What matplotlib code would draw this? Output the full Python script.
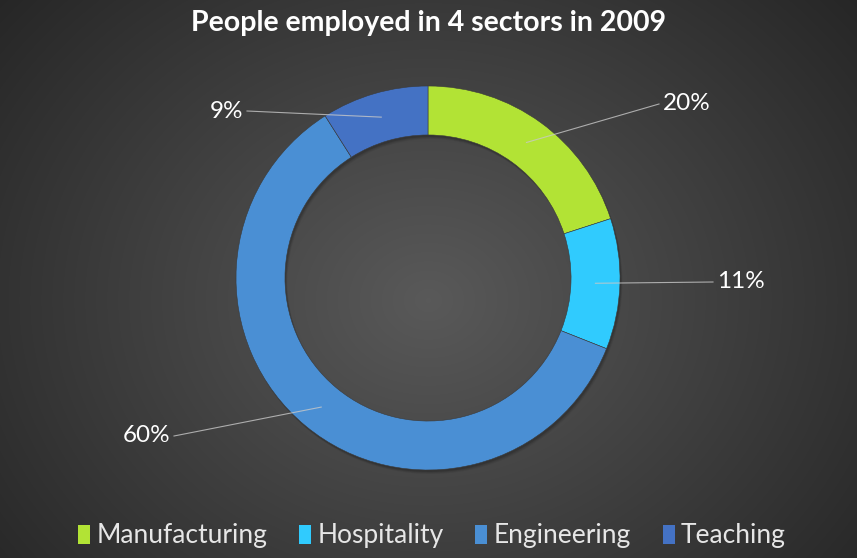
import numpy as np
import matplotlib.pyplot as plt
from matplotlib.patches import Patch, Wedge

sectors = ['Manufacturing', 'Hospitality', 'Engineering', 'Teaching']
shares = [20, 11, 60, 9]
colors = ['#b2e335', '#30cbfe', '#4a8fd4', '#4472c4']
# where each percentage label sits (pixels, origin bottom-left)
label_pos = [(659, 454), (713, 276), (174, 122), (247, 447)]

plt.rcParams['font.family'] = ['Lato', 'DejaVu Sans']

W, H = 857, 558
fig = plt.figure(figsize=(W / 100, H / 100), dpi=100)

# radial gradient background
bg = fig.add_axes([0, 0, 1, 1])
yy, xx = np.mgrid[0:H, 0:W]
d = np.sqrt(((xx - 428) / 560.0) ** 2 + ((yy - 300) / 470.0) ** 2)
g = np.clip(0.35 - 0.2 * d, 0.15, 0.35)
bg.imshow(np.dstack([g, g, g]), extent=[0, W, 0, H], origin='upper')
bg.set_xlim(0, W)
bg.set_ylim(0, H)
bg.axis('off')

ax = fig.add_axes([0, 0, 1, 1])
cx, cy, R = 428, 280, 192
ring = 0.255

# soft shadow under the ring
for k, a in [(4, 0.06), (3, 0.08), (2, 0.12)]:
    ax.add_patch(Wedge((cx + k * 0.6, cy - k), R, 0, 360, width=R * ring,
                       facecolor='black', alpha=a, edgecolor='none'))

wedges, _ = ax.pie(shares, colors=colors, startangle=90, counterclock=False,
                   center=(cx, cy), radius=R, frame=True,
                   wedgeprops=dict(width=R * ring, edgecolor='#3a3a3a', linewidth=0.4))
ax.set_xlim(0, W)
ax.set_ylim(0, H)
ax.set_aspect('equal')
ax.axis('off')

rmid = R * (1 - ring / 2)
for w, s, (lx, ly) in zip(wedges, shares, label_pos):
    ang = np.deg2rad((w.theta1 + w.theta2) / 2)
    px, py = cx + rmid * np.cos(ang), cy + rmid * np.sin(ang)
    right = lx > cx
    ax.plot([px, lx], [py, ly], color='#c8c8c8', lw=0.8, alpha=0.8)
    ax.text(lx + (4 if right else -4), ly, f'{s}%', color='white', fontsize=17.5,
            ha='left' if right else 'right', va='center')

fig.text(0.5, 1 - 23 / H, 'People employed in 4 sectors in 2009', color='white',
         fontsize=20.5, fontweight='bold', ha='center', va='center')

handles = [Patch(facecolor=c, edgecolor='none') for c in colors]
leg = fig.legend(handles, sectors, loc='center', bbox_to_anchor=(0.504, 1 - 536 / H),
                 ncol=4, frameon=False, fontsize=19, handlelength=0.45, handleheight=0.7,
                 handletextpad=0.25, columnspacing=1.2, labelcolor='#e6e6e6')

fig.savefig('out.png', dpi=100)
